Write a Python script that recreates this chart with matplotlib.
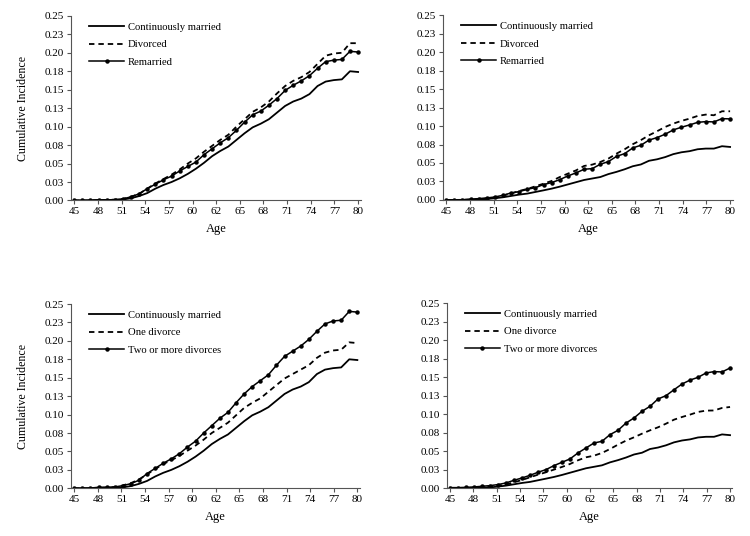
import numpy as np
import matplotlib
matplotlib.use("Agg")
import matplotlib.pyplot as plt

plt.rcParams['font.family'] = ['Liberation Serif', 'DejaVu Serif']

ages = list(range(45, 81))

# continuously married, shared by the two left panels
married_left = [0, 0, 0, 0.0005, 0.0005, 0.001, 0.0013, 0.003, 0.006, 0.010,
                0.016, 0.021, 0.025, 0.030, 0.036, 0.043, 0.051, 0.060, 0.067, 0.073,
                0.082, 0.091, 0.099, 0.104, 0.110, 0.119, 0.128, 0.134, 0.138, 0.144,
                0.155, 0.161, 0.163, 0.164, 0.175, 0.174]
divorced_left = [0, 0, 0, 0.0005, 0.0008, 0.001, 0.002, 0.005, 0.009, 0.016,
                 0.023, 0.029, 0.035, 0.042, 0.050, 0.057, 0.066, 0.074, 0.082, 0.089,
                 0.100, 0.110, 0.120, 0.126, 0.134, 0.145, 0.155, 0.162, 0.167, 0.174,
                 0.185, 0.196, 0.199, 0.200, 0.213, 0.213]
remarried_left = [0, 0, 0.0003, 0.0008, 0.0008, 0.001, 0.002, 0.005, 0.009, 0.016,
                  0.022, 0.028, 0.033, 0.040, 0.046, 0.052, 0.062, 0.070, 0.078, 0.085,
                  0.095, 0.106, 0.116, 0.121, 0.129, 0.138, 0.149, 0.156, 0.162, 0.169,
                  0.179, 0.188, 0.190, 0.191, 0.202, 0.201]
one_div_left = [0, 0, 0, 0.0005, 0.001, 0.0015, 0.004, 0.007, 0.012, 0.019,
                0.026, 0.033, 0.038, 0.044, 0.051, 0.058, 0.066, 0.075, 0.082, 0.089,
                0.099, 0.109, 0.116, 0.122, 0.131, 0.140, 0.149, 0.155, 0.161, 0.167,
                0.177, 0.184, 0.187, 0.188, 0.198, 0.197]
two_div_left = [0, 0, 0.0003, 0.0014, 0.0014, 0.0018, 0.0036, 0.0063, 0.011, 0.020,
                0.027, 0.034, 0.040, 0.047, 0.056, 0.064, 0.075, 0.085, 0.095, 0.103,
                0.116, 0.128, 0.138, 0.146, 0.154, 0.167, 0.179, 0.186, 0.193, 0.202,
                0.213, 0.223, 0.227, 0.228, 0.240, 0.239]

# continuously married, shared by the two right panels
married_right = [0, 0, 0, 0.0003, 0.0007, 0.0012, 0.0023, 0.0036, 0.0054, 0.0072,
                 0.0086, 0.0108, 0.013, 0.0153, 0.018, 0.021, 0.024, 0.027, 0.029, 0.031,
                 0.035, 0.038, 0.0415, 0.0456, 0.048, 0.053, 0.055, 0.058, 0.062, 0.0645,
                 0.066, 0.0686, 0.0695, 0.0695, 0.0727, 0.0717]
divorced_right = [0, 0, 0, 0.0005, 0.001, 0.0018, 0.0032, 0.0059, 0.0086, 0.0122,
                  0.0149, 0.0185, 0.022, 0.0257, 0.031, 0.0356, 0.040, 0.046, 0.0478, 0.0514,
                  0.056, 0.0627, 0.0686, 0.0754, 0.081, 0.0875, 0.093, 0.0988, 0.1033, 0.107,
                  0.110, 0.1137, 0.1155, 0.1146, 0.120, 0.120]
remarried_right = [0, 0.0002, 0.0003, 0.0009, 0.0018, 0.0027, 0.004, 0.0063, 0.0095, 0.0113,
                   0.0144, 0.0167, 0.0208, 0.0235, 0.0275, 0.0325, 0.0366, 0.0415, 0.0424, 0.0483,
                   0.0519, 0.059, 0.0627, 0.0704, 0.074, 0.081, 0.0844, 0.089, 0.0948, 0.0984,
                   0.1015, 0.105, 0.106, 0.1056, 0.110, 0.1097]
one_div_right = [0, 0, 0, 0.0005, 0.001, 0.0018, 0.003, 0.005, 0.0081, 0.0112,
                 0.0148, 0.0184, 0.0216, 0.0252, 0.0288, 0.0328, 0.0378, 0.0418, 0.044, 0.0477,
                 0.053, 0.0589, 0.0643, 0.0688, 0.0737, 0.0782, 0.0823, 0.0872, 0.0926, 0.0962,
                 0.0994, 0.103, 0.1048, 0.105, 0.1084, 0.1097]
two_div_right = [0.0009, 0.0009, 0.0013, 0.0018, 0.0027, 0.0036, 0.005, 0.0072, 0.0108, 0.0139,
                 0.0175, 0.0216, 0.0252, 0.0306, 0.0351, 0.0396, 0.0477, 0.0544, 0.0611, 0.0634,
                 0.0724, 0.0782, 0.088, 0.0949, 0.1039, 0.1106, 0.1205, 0.125, 0.133, 0.1407,
                 0.146, 0.1497, 0.1556, 0.1574, 0.157, 0.1623]

yticks = [0, 0.025, 0.05, 0.075, 0.1, 0.125, 0.15, 0.175, 0.2, 0.225, 0.25]
ytick_labels = ['0.00', '0.03', '0.05', '0.08', '0.10', '0.13', '0.15', '0.18', '0.20', '0.23', '0.25']
xtick_labels = ['45', '48', '51', '54', '57', '60', '62', '65', '68', '71', '74', '77', '80']

fig = plt.figure(figsize=(7.5, 5.36), dpi=100)

panels = [
    ([0.0947, 0.626, 0.386, 0.3444], married_left, divorced_left, remarried_left,
     ['Continuously married', 'Divorced', 'Remarried'], True),
    ([0.5907, 0.627, 0.386, 0.3446], married_right, divorced_right, remarried_right,
     ['Continuously married', 'Divorced', 'Remarried'], False),
    ([0.0947, 0.089, 0.385, 0.3438], married_left, one_div_left, two_div_left,
     ['Continuously married', 'One divorce', 'Two or more divorces'], True),
    ([0.5956, 0.089, 0.381, 0.3457], married_right, one_div_right, two_div_right,
     ['Continuously married', 'One divorce', 'Two or more divorces'], False),
]

for rect, s1, s2, s3, names, ylab in panels:
    ax = fig.add_axes(rect)
    ax.plot(ages, s1, color='black', lw=1.3, label=names[0])
    ax.plot(ages, s2, color='black', lw=1.3, dashes=(3, 2.2), label=names[1])
    ax.plot(ages, s3, color='black', lw=1.1, marker='o', ms=2.2, label=names[2])
    ax.set_xlim(44.6, 80.3)
    ax.set_ylim(0, 0.25)
    ax.set_xticks(np.linspace(45, 80, 13))
    ax.set_xticklabels(xtick_labels)
    ax.set_yticks(yticks)
    ax.set_yticklabels(ytick_labels)
    ax.tick_params(labelsize=8, length=3, width=0.8, color='#555555', pad=2)
    for side in ['top', 'right']:
        ax.spines[side].set_visible(False)
    for side in ['left', 'bottom']:
        ax.spines[side].set_color('#555555')
        ax.spines[side].set_linewidth(0.8)
    ax.set_xlabel('Age', fontsize=9, labelpad=5)
    if ylab:
        ax.set_ylabel('Cumulative Incidence', fontsize=8.6, labelpad=11)
    ax.legend(loc='upper left', frameon=False, fontsize=7.7, handlelength=3.3,
              handletextpad=0.35, labelspacing=0.75, borderaxespad=0.2,
              bbox_to_anchor=(0.04, 1.0))

fig.savefig('out.png', dpi=100)
